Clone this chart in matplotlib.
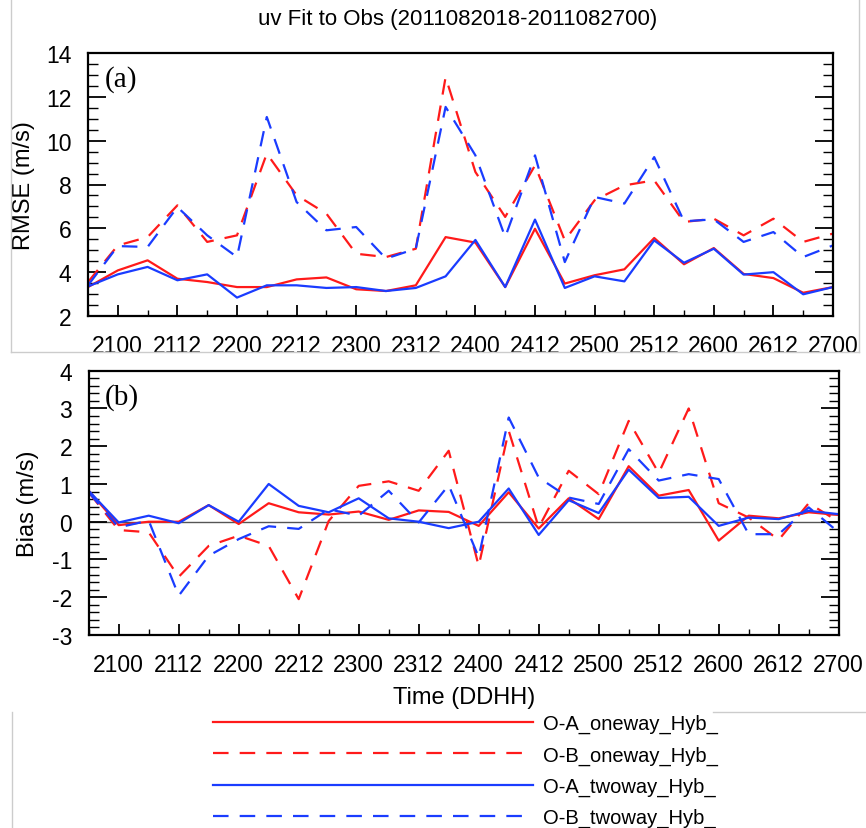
import matplotlib
matplotlib.use("Agg")
import matplotlib.pyplot as plt
from matplotlib.lines import Line2D
import numpy as np

plt.rcParams['font.family'] = ['Liberation Sans', 'DejaVu Sans']
plt.rcParams['axes.unicode_minus'] = False

times = ['2018', '2100', '2106', '2112', '2118', '2200', '2206', '2212', '2218',
         '2300', '2306', '2312', '2318', '2400', '2406', '2412', '2418', '2500',
         '2506', '2512', '2518', '2600', '2606', '2612', '2618', '2700']

# RMSE (m/s)
rmse_oa_one = [3.32, 4.08, 4.54, 3.70, 3.55, 3.32, 3.32, 3.67, 3.76, 3.22, 3.14, 3.40,
               5.60, 5.35, 3.32, 5.98, 3.48, 3.86, 4.13, 5.56, 4.36, 5.10, 3.92, 3.73, 3.06, 3.32]
rmse_ob_one = [3.55, 5.22, 5.60, 7.05, 5.38, 5.68, 9.41, 7.51, 6.67, 4.84, 4.69, 5.07,
               12.90, 8.57, 6.52, 8.87, 5.45, 7.28, 7.96, 8.19, 6.29, 6.44, 5.68, 6.44, 5.38, 5.76]
rmse_oa_two = [3.35, 3.90, 4.24, 3.63, 3.90, 2.84, 3.40, 3.40, 3.28, 3.32, 3.14, 3.28,
               3.81, 5.47, 3.32, 6.40, 3.28, 3.81, 3.58, 5.45, 4.43, 5.07, 3.89, 4.00, 2.99, 3.32]
rmse_ob_two = [3.40, 5.19, 5.15, 6.97, 5.68, 4.69, 11.08, 7.20, 5.91, 6.06, 4.62, 5.07,
               11.54, 9.33, 5.60, 9.33, 4.46, 7.43, 7.13, 9.25, 6.32, 6.41, 5.38, 5.83, 4.69, 5.22]

# Bias (m/s)
bias_oa_one = [0.82, -0.09, 0.00, 0.00, 0.44, -0.06, 0.49, 0.25, 0.19, 0.27, 0.05, 0.30,
               0.26, -0.11, 0.78, -0.18, 0.62, 0.07, 1.47, 0.69, 0.84, -0.50, 0.16, 0.09, 0.25, 0.18]
bias_ob_one = [0.78, -0.22, -0.28, -1.46, -0.64, -0.37, -0.64, -2.05, 0.02, 0.95, 1.07, 0.82,
               1.88, -1.17, 2.41, -0.15, 1.35, 0.73, 2.67, 1.29, 3.00, 0.49, 0.11, -0.48, 0.49, 0.00]
bias_oa_two = [0.82, -0.02, 0.16, -0.04, 0.44, 0.00, 1.00, 0.42, 0.25, 0.62, 0.09, 0.00,
               -0.17, 0.00, 0.88, -0.35, 0.57, 0.23, 1.38, 0.63, 0.66, -0.11, 0.11, 0.07, 0.29, 0.20]
bias_ob_two = [0.78, -0.15, 0.03, -1.96, -0.90, -0.46, -0.12, -0.19, 0.33, 0.16, 0.82, -0.02,
               0.97, -0.94, 2.76, 1.17, 0.64, 0.47, 1.92, 1.09, 1.26, 1.13, -0.33, -0.33, 0.38, -0.28]

labels = ['O-A_oneway_Hyb_', 'O-B_oneway_Hyb_', 'O-A_twoway_Hyb_', 'O-B_twoway_Hyb_']
RED = '#ff1a1a'
BLUE = '#1a3cff'
colors = [RED, RED, BLUE, BLUE]
DASH = (0, (7, 5))
styles = ['-', DASH, '-', DASH]

W, H = 866, 829
fig = plt.figure(figsize=(W / 100, H / 100), dpi=100)


def px_axes(l, t, r, b):
    return fig.add_axes([l / W, 1 - b / H, (r - l) / W, (b - t) / H])


x = np.arange(len(times))
major_idx = x[1::2]
minor_idx = x[0::2]


def style_axes(ax, ymin, ymax, ymajor, yminor):
    ax.set_xlim(0, len(times) - 1)
    ax.set_ylim(ymin, ymax)
    ax.set_xticks(major_idx)
    ax.set_xticklabels([times[i] for i in major_idx])
    ax.set_xticks(minor_idx, minor=True)
    ax.set_yticks(np.arange(ymin, ymax + 0.001, ymajor))
    ax.set_yticks(np.arange(ymin, ymax + 0.001, yminor), minor=True)
    ax.tick_params(axis='x', which='major', direction='in', length=8, width=1.3,
                   labelsize=16.5, pad=13, top=False)
    ax.tick_params(axis='x', which='minor', direction='in', length=4.5, width=1.0, top=False)
    ax.tick_params(axis='y', which='major', direction='in', length=13, width=1.3,
                   labelsize=16.5, pad=12, right=True)
    ax.tick_params(axis='y', which='minor', direction='in', length=7, width=1.0, right=True)
    for s in ax.spines.values():
        s.set_linewidth(1.6)


ax1 = px_axes(88, 54, 833, 317)
series1 = [rmse_oa_one, rmse_ob_one, rmse_oa_two, rmse_ob_two]
handles = []
for vals, c, ls, lab in zip(series1, colors, styles, labels):
    h, = ax1.plot(x, vals, color=c, linestyle=ls, linewidth=1.6, label=lab)
    handles.append(h)
style_axes(ax1, 2, 14, 2, 0.5)
ax1.set_ylabel('RMSE (m/s)', fontsize=17, labelpad=8)
ax1.text(0.022, 0.955, '(a)', transform=ax1.transAxes, fontsize=21,
         family='Liberation Serif', va='top', ha='left')

ax2 = px_axes(88.7, 371.7, 838.7, 636)
ax2.axhline(0, color='#555555', linewidth=1.0, zorder=1)
series2 = [bias_oa_one, bias_ob_one, bias_oa_two, bias_ob_two]
for vals, c, ls in zip(series2, colors, styles):
    ax2.plot(x, vals, color=c, linestyle=ls, linewidth=1.6)
style_axes(ax2, -3, 4, 1, 0.2)
ax2.set_ylabel('Bias (m/s)', fontsize=17, labelpad=9)
ax2.set_xlabel('Time (DDHH)', fontsize=17, labelpad=7)
ax2.text(0.022, 0.955, '(b)', transform=ax2.transAxes, fontsize=21,
         family='Liberation Serif', va='top', ha='left')

fig.text(458 / W, 1 - 20 / H, 'uv Fit to Obs (2011082018-2011082700)',
         fontsize=16, ha='center', va='center')

fig.legend(handles=handles, labels=labels, loc='upper left',
           bbox_to_anchor=(213 / W, 1 - 715 / H), frameon=False,
           fontsize=14.5, handlelength=15.9, handletextpad=0.5,
           labelspacing=0.6, borderpad=0, borderaxespad=0)

# light gray frame lines of the original page
g = '#cccccc'
for (x0, y0, x1, y1) in [(11, 0, 11, 353), (11, 353, 859, 353), (859, 0, 859, 353),
                         (12, 713, 12, 829), (713, 713, 866, 713)]:
    fig.add_artist(Line2D([x0 / W, x1 / W], [1 - y0 / H, 1 - y1 / H],
                          color=g, linewidth=1.0, transform=fig.transFigure))

fig.savefig('out.png', dpi=100)
